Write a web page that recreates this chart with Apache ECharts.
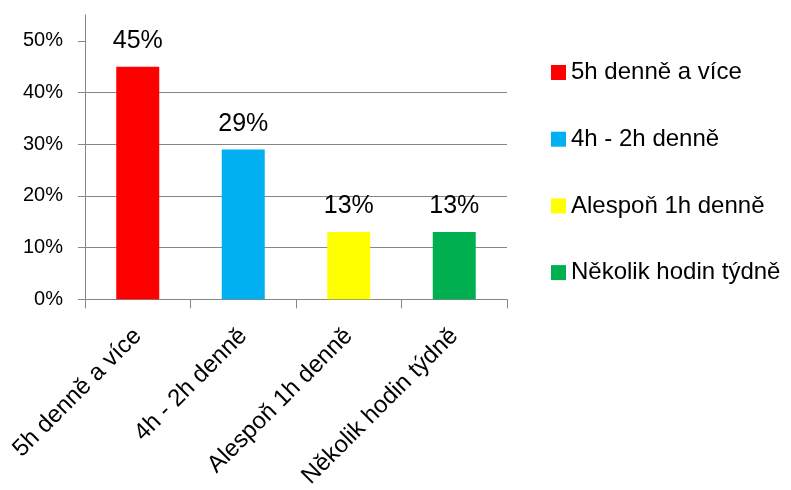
<!DOCTYPE html>
<html>
<head>
<meta charset="utf-8">
<script src="https://cdn.jsdelivr.net/npm/echarts@6/dist/echarts.min.js"></script>
<style>
html,body{margin:0;padding:0;background:#fff;}
#chart{width:791px;height:490px;}
</style>
</head>
<body>
<div id="chart"></div>
<script>
const categories = ['5h denně a více', '4h - 2h denně', 'Alespoň 1h denně', 'Několik hodin týdně'];
const values = [45, 29, 13, 13];
const colors = ['#FF0000', '#00B0F0', '#FFFF00', '#00B050'];
const yTicks = [0, 10, 20, 30, 40, 50];

const FONT = 'Liberation Sans';
const series = categories.map(function (name, i) {
  return {
    name: name,
    type: 'bar',
    stack: 'one',
    barWidth: 43,
    itemStyle: { color: colors[i] },
    label: {
      show: true,
      position: 'top',
      distance: 13,
      formatter: '{c}%',
      fontFamily: FONT,
      fontSize: 25,
      color: '#000'
    },
    data: categories.map(function (c, j) { return j === i ? values[i] : '-'; })
  };
});

const chart = echarts.init(document.getElementById('chart'), null, { renderer: 'canvas' });
chart.setOption({
  animation: false,
  backgroundColor: '#fff',
  textStyle: { fontFamily: FONT },
  grid: { left: 85, right: 284, top: 15, bottom: 190.7, containLabel: false, outerBoundsMode: 'none' },
  legend: {
    orient: 'vertical',
    left: 546,
    top: 55.5,
    itemWidth: 15,
    itemHeight: 15,
    itemGap: 42.7,
    icon: 'rect',
    textStyle: { fontFamily: FONT, fontSize: 24, color: '#000' },
    data: categories
  },
  xAxis: {
    type: 'category',
    data: categories,
    axisLine: { show: true, lineStyle: { color: '#868686', width: 1 } },
    axisTick: { show: true, alignWithLabel: false, length: 9, lineStyle: { color: '#868686', width: 1 } },
    axisLabel: {
      rotate: 45,
      margin: 33,
      fontFamily: FONT,
      fontSize: 24,
      color: '#000',
      interval: 0
    }
  },
  yAxis: {
    type: 'value',
    min: 0,
    max: 55,
    interval: 10,
    axisLine: { show: true, lineStyle: { color: '#868686', width: 1 } },
    axisTick: { show: true, length: 7, customValues: yTicks, lineStyle: { color: '#868686', width: 1 } },
    axisLabel: {
      customValues: yTicks,
      formatter: '{value}%',
      margin: 22,
      fontFamily: FONT,
      fontSize: 20,
      color: '#000'
    },
    splitLine: { show: true, showMaxLine: false, lineStyle: { color: '#868686', width: 1 } }
  },
  series: series
});
</script>
</body>
</html>
